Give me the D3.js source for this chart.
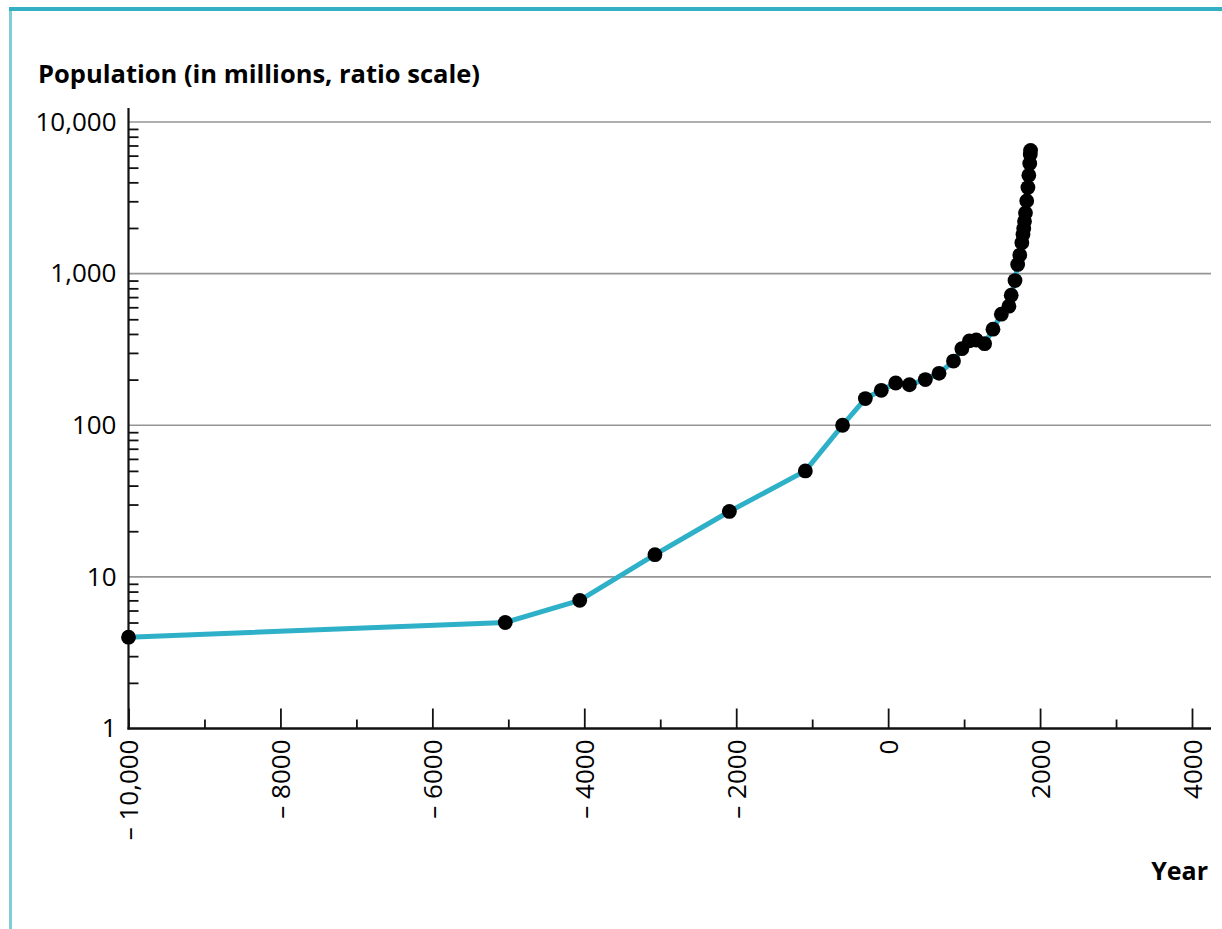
<!DOCTYPE html>
<html><head><meta charset="utf-8">
<script src="https://cdn.jsdelivr.net/npm/d3@7"></script>
<style>
body{margin:0;background:#fff;}
svg{display:block;}
text{font-family:"Open Sans","Noto Sans",sans-serif;fill:#000;}
</style>
</head><body>
<svg id="c" width="1222" height="929"></svg>
<script>
// Data (year as plotted, population in millions)
const years = [-10000,-5040,-4060,-3070,-2090,-1090,-600,-300,-90,100,280,490,670,860,970,1070,1160,1270,1380,1490,1590,1620,1670,1705,1733,1760,1775,1785,1795,1808,1824,1840,1852,1864,1871,1875];
const population = [4,5,7,14,27,50,100,150,170,190,185,200,220,265,320,360,365,345,430,540,610,720,900,1150,1325,1600,1813,1987,2213,2516,3019,3693,4450,5333,6100,6500];

const yTickValues = [1,10,100,1000,10000];
const yTickLabels = ["1","10","100","1,000","10,000"];
const xTickValues = [-10000,-8000,-6000,-4000,-2000,0,2000,4000];
const xTickLabels = ["– 10,000","– 8000","– 6000","– 4000","– 2000","0","2000","4000"];
const xMinorValues = [-9000,-7000,-5000,-3000,-1000,1000,3000];
const yMinorValues = [1,10,100,1000].flatMap(d => [2,3,4,5,6,7,8,9].map(k => k*d));

const titleText = "Population (in millions, ratio scale)";
const xTitleText = "Year";

const svg = d3.select("#c");
const x = d3.scaleLinear().domain([-10000,4000]).range([128.5,1192]);
const y = d3.scaleLog().domain([1,10000]).range([728.5,122]);
const xEnd = 1211;

// frame
svg.append("line").attr("x1",10.5).attr("x2",10.5).attr("y1",9).attr("y2",929)
  .attr("stroke","#7fcdd5").attr("stroke-width",3);
svg.append("line").attr("x1",9).attr("x2",1222).attr("y1",9).attr("y2",9)
  .attr("stroke","#35afc4").attr("stroke-width",4);

// gridlines
svg.append("g").selectAll("line").data(yTickValues.slice(1)).join("line")
  .attr("x1",x(-10000)).attr("x2",xEnd)
  .attr("y1",d=>y(d)).attr("y2",d=>y(d))
  .attr("stroke","#959595").attr("stroke-width",1.6);

// y minor ticks
const yMinor = svg.append("g").attr("transform",`translate(${x(-10000)},0)`)
  .call(d3.axisRight(y).tickValues(yMinorValues).tickSize(10).tickFormat(""));
yMinor.select(".domain").remove();
yMinor.selectAll("line").attr("stroke","#111").attr("stroke-width",1.8);

// y labels
const yAx = svg.append("g").attr("transform",`translate(${x(-10000)},0)`)
  .call(d3.axisLeft(y).tickValues(yTickValues).tickSize(0).tickPadding(12)
    .tickFormat((d,i)=>yTickLabels[i]));
yAx.select(".domain").remove();
yAx.selectAll("text").attr("font-size",26).attr("font-family",null).attr("fill","#000");

// y axis line
svg.append("line").attr("x1",x(-10000)).attr("x2",x(-10000)).attr("y1",108).attr("y2",y(1)+1)
  .attr("stroke","#111").attr("stroke-width",2.2);

// x minor ticks
const xMinor = svg.append("g").attr("transform",`translate(0,${y(1)})`)
  .call(d3.axisBottom(x).tickValues(xMinorValues).tickSize(-9).tickFormat(""));
xMinor.select(".domain").remove();
xMinor.selectAll("line").attr("stroke","#111").attr("stroke-width",1.8);

// x major ticks + labels
const xAx = svg.append("g").attr("transform",`translate(0,${y(1)})`)
  .call(d3.axisBottom(x).tickValues(xTickValues).tickSize(-20)
    .tickFormat((d,i)=>xTickLabels[i]));
xAx.select(".domain").remove();
xAx.selectAll("line").attr("stroke","#111").attr("stroke-width",1.8);
xAx.selectAll("text")
  .attr("font-size",26).attr("font-family",null).attr("fill","#000")
  .attr("transform","rotate(-90)")
  .attr("text-anchor","end")
  .attr("x",-11).attr("y",0).attr("dy","0.36em");

// x axis line
svg.append("line").attr("x1",x(-10000)-1).attr("x2",xEnd).attr("y1",y(1)).attr("y2",y(1))
  .attr("stroke","#111").attr("stroke-width",2.4);

// series
const pts = years.map((d,i)=>({year:d,pop:population[i]}));
svg.append("path").datum(pts)
  .attr("fill","none").attr("stroke","#2db0c8").attr("stroke-width",5)
  .attr("stroke-linejoin","round")
  .attr("d",d3.line().x(d=>x(d.year)).y(d=>y(d.pop)));
svg.append("g").selectAll("circle").data(pts).join("circle")
  .attr("cx",d=>x(d.year)).attr("cy",d=>y(d.pop)).attr("r",7.4).attr("fill","#000");

// titles
svg.append("text").attr("x",38).attr("y",83).attr("font-size",25.5).attr("font-weight",700)
  .text(titleText);
svg.append("text").attr("x",1208).attr("y",880).attr("text-anchor","end")
  .attr("font-size",25).attr("font-weight",700).text(xTitleText);
</script>
</body></html>
